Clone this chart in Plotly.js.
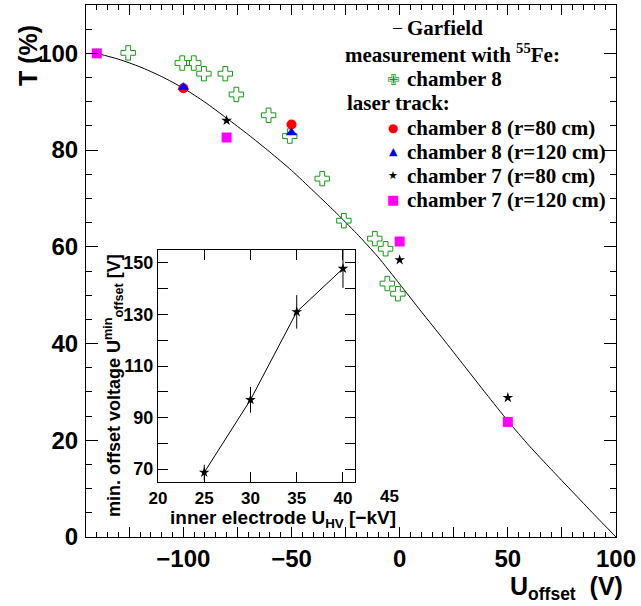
<!DOCTYPE html>
<html>
<head>
<meta charset="utf-8">
<script src="https://cdn.plot.ly/plotly-3.0.1.min.js"></script>
<style>html,body{margin:0;padding:0;background:#fff;}#chart{width:641px;height:606px;}</style>
</head>
<body>
<div id="chart"></div>
<script>
// ---- data ----
var garfieldX = [-140,-130,-120,-110,-100,-90,-80,-70,-60,-50,-40,-30,-20,-10,0,10,20,30,40,50,60,70,80,90,100];
var garfieldY = [100,98.8,97.2,95.2,92.8,89.9,86.6,83.2,79.6,75.8,71.6,67.3,62.8,57.9,52.3,46.6,41.0,35.3,29.6,24.0,18.8,14.0,9.3,4.6,0];

var fe55Ch8X = [-125.5,-100.5,-95.2,-90.5,-80.6,-75.5,-60.6,-50.8,-35.8,-25.8,-11.5,-6.5,-5.7,-0.8];
var fe55Ch8Y = [100.1,98.0,98.0,95.8,95.8,91.5,87.2,82.9,74.1,65.4,61.7,59.6,52.4,50.3];

var ch8r80X = [-100,-50];
var ch8r80Y = [92.8,85.3];
var ch8r120X = [-100,-50];
var ch8r120Y = [93.0,83.6];
var ch7r80X = [-80,0,50];
var ch7r80Y = [86.1,57.3,28.8];
var ch7r120X = [-140,-80,0,50];
var ch7r120Y = [100.0,82.6,61.1,23.8];

var insetHV = [25,30,35,40];
var insetUmin = [68.7,96.9,131.0,147.8];
var insetErr = [3,5,6.5,7.5];

var insetXTicks = [20,25,30,35,40];
var insetXLastLabel = '45';

var legendLabels = {
  garfield: 'Garfield',
  fe: 'measurement with <sup>55</sup>Fe:',
  ch8: 'chamber 8',
  laser: 'laser track:',
  c8r80: 'chamber 8 (r=80 cm)',
  c8r120: 'chamber 8 (r=120 cm)',
  c7r80: 'chamber 7 (r=80 cm)',
  c7r120: 'chamber 7 (r=120 cm)'
};

// ---- helpers: pixel -> paper (plot area: l=86, r=616, t=5, b=537)
function px(x){ return (x-86)/530; }
function py(y){ return (537-y)/532; }

var sans = 'Liberation Sans, Arial, sans-serif';
var serif = 'Liberation Serif, Times New Roman, serif';
var green = '#139a13';

var traces = [
  {x: garfieldX, y: garfieldY, mode:'lines', name: legendLabels.garfield,
   line:{color:'#000', width:1, shape:'spline', smoothing:0.6}, xaxis:'x', yaxis:'y', hoverinfo:'skip'},
  {x: fe55Ch8X, y: fe55Ch8Y, mode:'markers', name: legendLabels.ch8,
   marker:{symbol:'cross-open', size:12, color:green, line:{width:1, color:green}}, xaxis:'x', yaxis:'y'},
  {x: ch8r80X, y: ch8r80Y, mode:'markers', name: legendLabels.c8r80,
   marker:{symbol:'circle', size:10, color:'#ff0000'}, xaxis:'x', yaxis:'y'},
  {x: ch8r120X, y: ch8r120Y, mode:'markers', name: legendLabels.c8r120,
   marker:{symbol:'triangle-up', size:10, color:'#0000ff'}, xaxis:'x', yaxis:'y'},
  {x: ch7r80X, y: ch7r80Y, mode:'markers', name: legendLabels.c7r80,
   marker:{symbol:'star', size:8, color:'#000'}, xaxis:'x', yaxis:'y'},
  {x: ch7r120X, y: ch7r120Y, mode:'markers', name: legendLabels.c7r120,
   marker:{symbol:'square', size:10, color:'#ff00ff'}, xaxis:'x', yaxis:'y'},
  {x: insetHV, y: insetUmin, mode:'lines+markers', name:'U min offset',
   line:{color:'#000', width:1}, marker:{symbol:'star', size:8, color:'#000'},
   error_y:{type:'data', array: insetErr, visible:true, color:'#000', thickness:1, width:0},
   xaxis:'x2', yaxis:'y2'}
];

function ann(text, x, y, opts){
  var a = {text:text, x:x, y:y, xref:'paper', yref:'paper', showarrow:false,
           xanchor:'left', yanchor:'middle',
           font:{family:serif, size:21, color:'#000', weight:'bold'}};
  for (var k in opts) a[k]=opts[k];
  return a;
}

var annotations = [
  // legend
  ann('\u2013', px(397), py(27), {xanchor:'center', font:{family:serif, size:18, color:'#000'}}),
  ann(legendLabels.garfield, px(405), py(28)),
  ann(legendLabels.fe, px(343), py(54)),
  ann('\u2719', px(393), py(80), {xanchor:'center', font:{family:'DejaVu Sans', size:15, color:green}}),
  ann(legendLabels.ch8, px(405), py(79)),
  ann(legendLabels.laser, px(345), py(103)),
  ann('\u25CF', px(393), py(128), {xanchor:'center', font:{family:'DejaVu Sans', size:12, color:'#ff0000'}}),
  ann(legendLabels.c8r80, px(405), py(128)),
  ann('\u25B2', px(393), py(152), {xanchor:'center', font:{family:'DejaVu Sans', size:11, color:'#0000ff'}}),
  ann(legendLabels.c8r120, px(405), py(152)),
  ann('\u2605', px(393), py(176), {xanchor:'center', font:{family:'DejaVu Sans', size:11, color:'#000'}}),
  ann(legendLabels.c7r80, px(405), py(176)),
  ann('\u25A0', px(393), py(200), {xanchor:'center', font:{family:'DejaVu Sans', size:13, color:'#ff00ff'}}),
  ann(legendLabels.c7r120, px(405), py(200)),
  // main axis titles
  ann('T (%)', px(28), py(56), {xanchor:'center', textangle:-90, font:{family:sans, size:25, color:'#000', weight:'bold'}}),
  ann('U<sub>offset</sub>  (V)', px(625), py(588), {xanchor:'right', font:{family:sans, size:25, color:'#000', weight:'bold'}}),
  // inset axis titles
  ann('min. offset voltage U<sup>min</sup><sub>offset</sub> [V]', px(113), py(386), {xanchor:'center', textangle:-90, font:{family:sans, size:18, color:'#000', weight:'bold'}}),
  ann('inner electrode U<sub>HV</sub> [\u2212kV]', px(283), py(519), {xanchor:'center', font:{family:sans, size:19, color:'#000', weight:'bold'}}),
  ann(insetXLastLabel, px(389), py(496), {xanchor:'center', font:{family:sans, size:17, color:'#000', weight:'bold'}})
];

var layout = {
  width:641, height:606,
  margin:{l:86, r:25, t:5, b:69},
  paper_bgcolor:'#fff', plot_bgcolor:'rgba(0,0,0,0)',
  showlegend:false,
  font:{family:sans, color:'#000'},
  xaxis:{range:[-145,100], domain:[0,1], anchor:'y',
    tickmode:'linear', tick0:0, dtick:25, ticklabelstep:2,
    ticks:'inside', ticklen:10, tickwidth:1, tickcolor:'#000',
    showline:true, linecolor:'#000', linewidth:1, mirror:'allticks',
    showgrid:false, zeroline:false, ticklabelstandoff:0,
    tickfont:{family:sans, size:24, weight:'bold', color:'#000'},
    minor:{tickmode:'linear', tick0:0, dtick:5, ticks:'inside', ticklen:5, tickcolor:'#000', showgrid:false}},
  yaxis:{range:[0,110], domain:[0,1], anchor:'x',
    tickmode:'linear', tick0:0, dtick:20,
    ticks:'inside', ticklen:12, tickwidth:1, tickcolor:'#000',
    showline:true, linecolor:'#000', linewidth:1, mirror:'allticks',
    showgrid:false, zeroline:false, ticklabelstandoff:2,
    tickfont:{family:sans, size:24, weight:'bold', color:'#000'},
    minor:{tickmode:'linear', tick0:0, dtick:5, ticks:'inside', ticklen:6, tickcolor:'#000', showgrid:false}},
  xaxis2:{range:[20,41.3], domain:[px(158), px(355)], anchor:'y2',
    tickmode:'array', tickvals: insetXTicks,
    ticks:'inside', ticklen:10, tickwidth:1, tickcolor:'#000',
    showline:true, linecolor:'#000', linewidth:1, mirror:'allticks',
    showgrid:false, zeroline:false, ticklabelstandoff:1,
    tickfont:{family:sans, size:17, weight:'bold', color:'#000'}},
  yaxis2:{range:[65,155], domain:[py(482), py(250)], anchor:'x2',
    tickmode:'linear', tick0:70, dtick:10, ticklabelstep:2,
    ticks:'inside', ticklen:10, tickwidth:1, tickcolor:'#000',
    showline:true, linecolor:'#000', linewidth:1, mirror:'allticks',
    showgrid:false, zeroline:false, ticklabelstandoff:0,
    tickfont:{family:sans, size:18, weight:'bold', color:'#000'}},
  annotations: annotations
};

Plotly.newPlot('chart', traces, layout, {staticPlot:true, displayModeBar:false});
</script>
</body>
</html>
